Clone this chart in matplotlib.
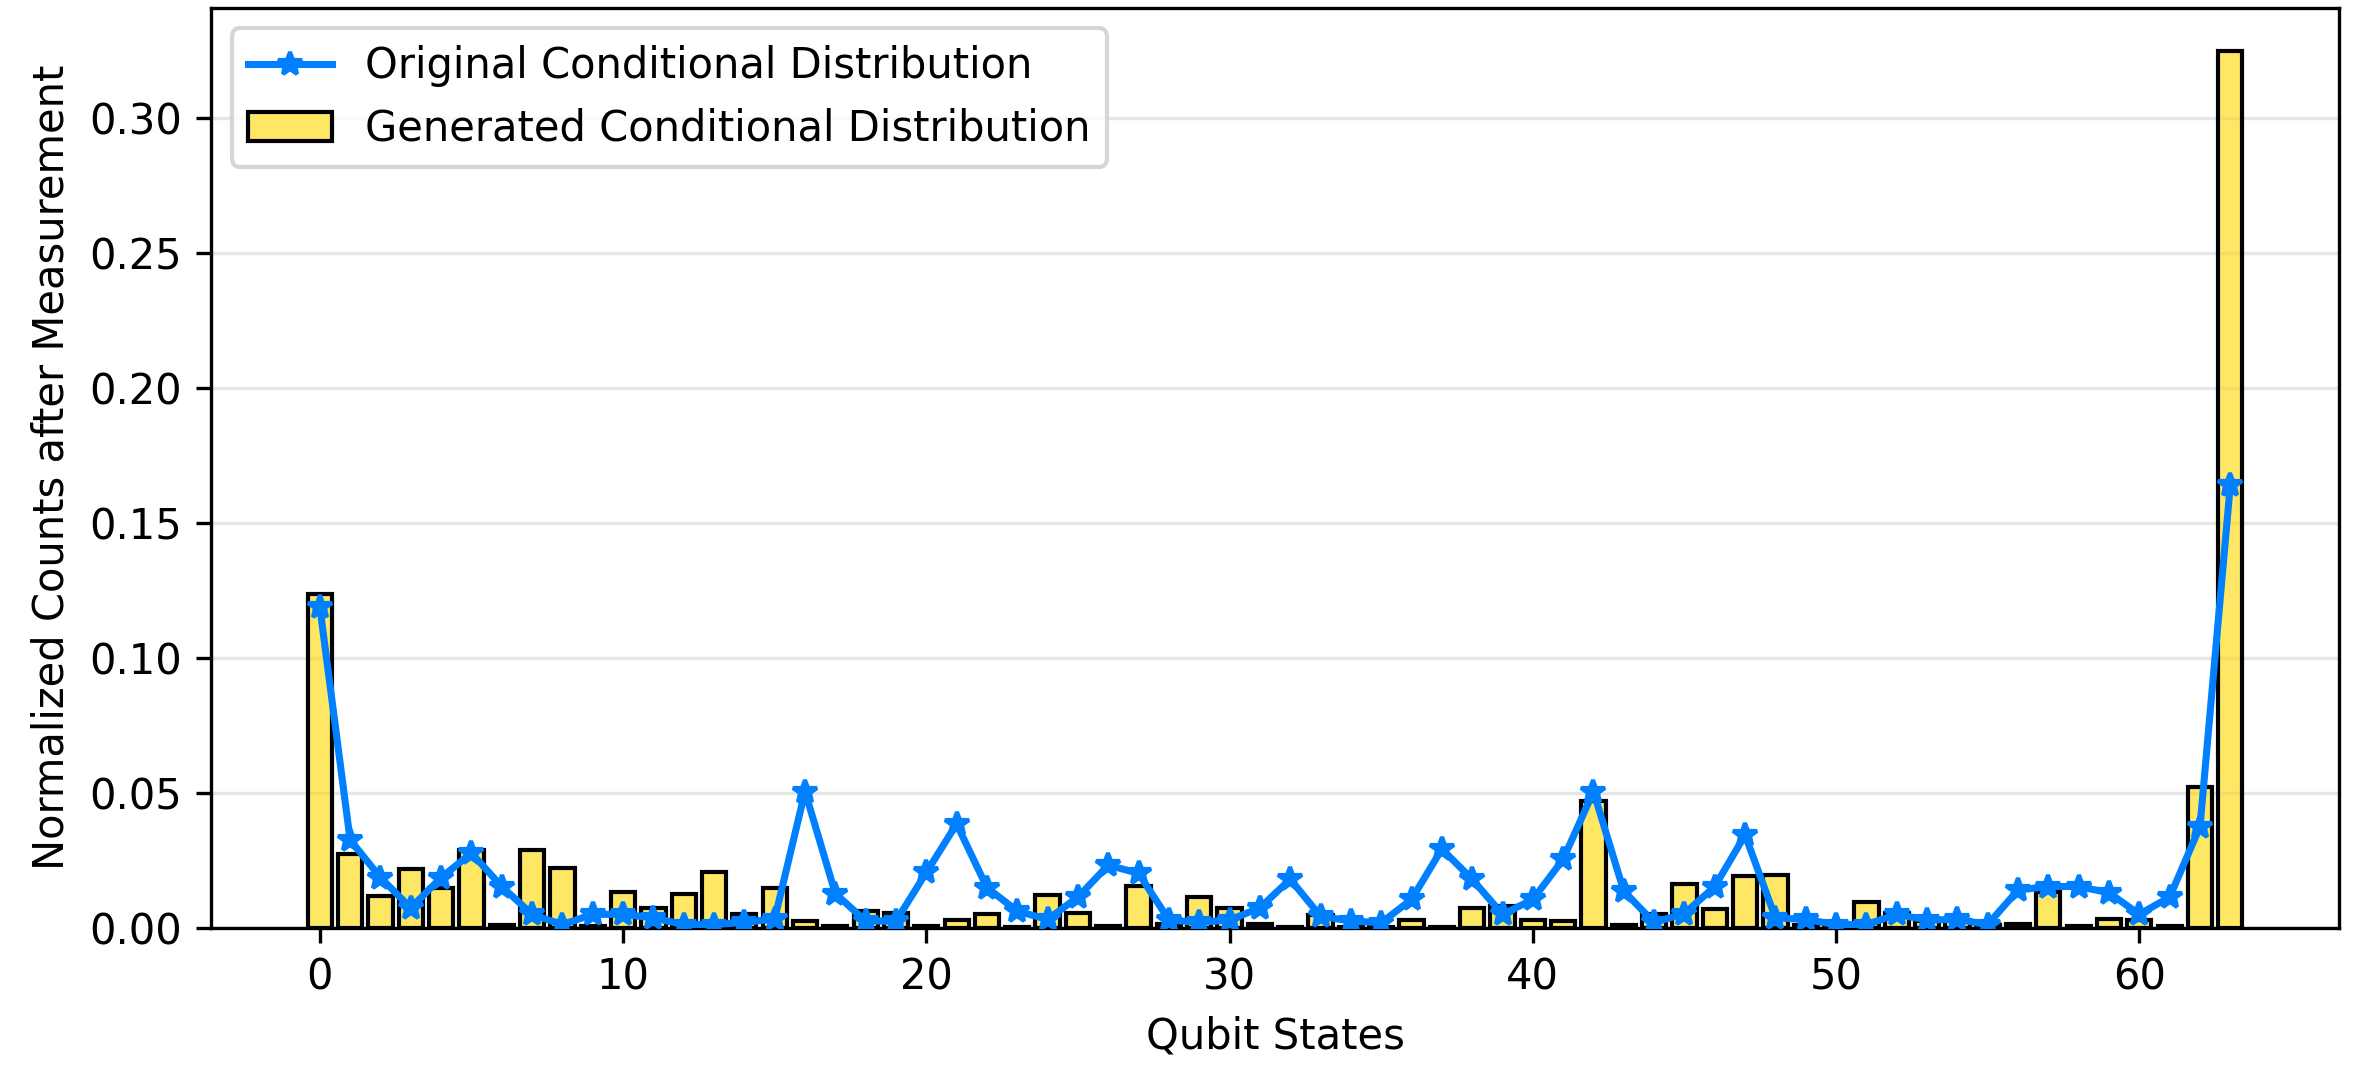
import numpy as np
import matplotlib.pyplot as plt
from matplotlib.patches import Patch

states = np.arange(64)

# generated conditional distribution (bars)
generated = [0.1236, 0.0273, 0.0118, 0.0217, 0.0149, 0.0289, 0.0010, 0.0289,
             0.0221, 0.0008, 0.0134, 0.0074, 0.0127, 0.0208, 0.0052, 0.0149,
             0.0025, 0.0006, 0.0062, 0.0056, 0.0006, 0.0029, 0.0052, 0.0004,
             0.0123, 0.0056, 0.0006, 0.0155, 0.0016, 0.0114, 0.0073, 0.0016,
             0.0004, 0.0048, 0.0003, 0.0004, 0.0029, 0.0004, 0.0074, 0.0081,
             0.0029, 0.0025, 0.0471, 0.0009, 0.0053, 0.0164, 0.0068, 0.0192,
             0.0197, 0.0010, 0.0003, 0.0097, 0.0056, 0.0025, 0.0030, 0.0010,
             0.0015, 0.0133, 0.0006, 0.0031, 0.0029, 0.0006, 0.0521, 0.3247]

# original conditional distribution (line)
original = [0.1190, 0.0326, 0.0186, 0.0074, 0.0186, 0.0277, 0.0153, 0.0050,
            0.0012, 0.0050, 0.0050, 0.0037, 0.0012, 0.0012, 0.0020, 0.0033,
            0.0505, 0.0127, 0.0025, 0.0025, 0.0205, 0.0385, 0.0149, 0.0062,
            0.0031, 0.0114, 0.0232, 0.0202, 0.0029, 0.0020, 0.0029, 0.0074,
            0.0180, 0.0043, 0.0025, 0.0019, 0.0105, 0.0292, 0.0180, 0.0050,
            0.0105, 0.0254, 0.0505, 0.0136, 0.0020, 0.0053, 0.0153, 0.0344,
            0.0037, 0.0031, 0.0012, 0.0012, 0.0050, 0.0029, 0.0031, 0.0012,
            0.0140, 0.0153, 0.0153, 0.0130, 0.0050, 0.0114, 0.0375, 0.1642]

fig, ax = plt.subplots(figsize=(7.9, 3.63), dpi=300)
fig.subplots_adjust(left=0.089, right=0.987, top=0.993, bottom=0.148)

# fill with alpha, edges solid black
ax.bar(states, generated, width=0.8, color='gold', alpha=0.6, zorder=2)
ax.bar(states, generated, width=0.8, facecolor='none', edgecolor='black',
       linewidth=1, zorder=2)
ax.plot(states, original, color='#0080FF', marker='*', markersize=6,
        linewidth=1.7, zorder=3, label='Original Conditional Distribution')

handles, labels = ax.get_legend_handles_labels()
handles.append(Patch(facecolor='#FFE766', edgecolor='black'))
labels.append('Generated Conditional Distribution')
ax.legend(handles, labels, loc='upper left')

ax.grid(True, axis='y', color='#e6e6e6', linewidth=0.8, zorder=0)
ax.set_axisbelow(True)
ax.set_xlabel('Qubit States')
ax.set_ylabel('Normalized Counts after Measurement')

plt.savefig('out.png', dpi=300)
